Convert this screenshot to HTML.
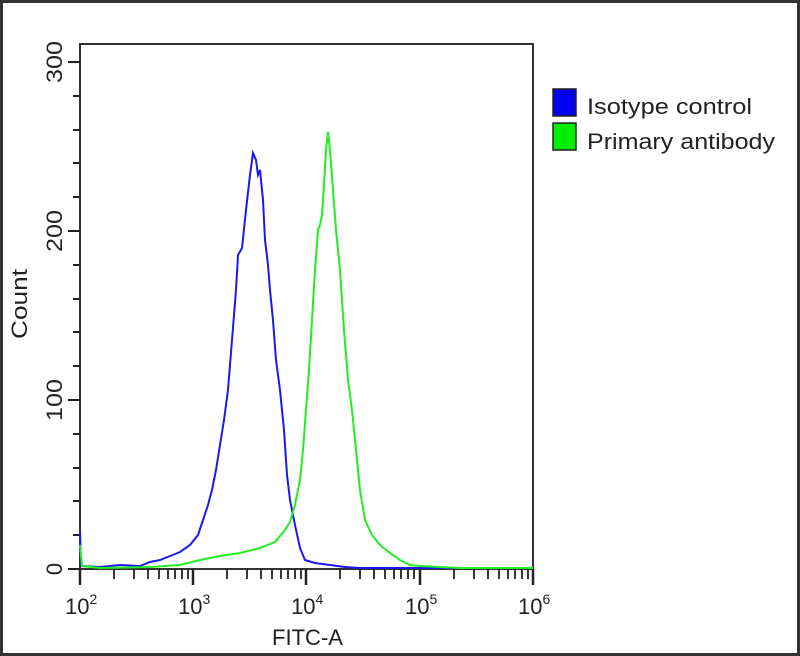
<!DOCTYPE html>
<html><head><meta charset="utf-8"><style>
html,body{margin:0;padding:0;background:#fff}
svg{display:block}
text{font-family:"Liberation Sans",sans-serif;fill:#222}
</style></head><body>
<svg width="800" height="656" viewBox="0 0 800 656" xmlns="http://www.w3.org/2000/svg">
<rect x="1.5" y="1.5" width="797" height="653" fill="#fff" stroke="#333" stroke-width="3"/>
<rect x="80" y="44" width="453" height="525" fill="#fff" stroke="#333" stroke-width="2"/>
<g stroke="#222" stroke-width="2">
<line x1="68" y1="569" x2="80" y2="569"/><line x1="68" y1="400" x2="80" y2="400"/><line x1="68" y1="231" x2="80" y2="231"/><line x1="68" y1="62" x2="80" y2="62"/>
<line x1="73" y1="535" x2="80" y2="535"/><line x1="73" y1="501" x2="80" y2="501"/><line x1="73" y1="468" x2="80" y2="468"/><line x1="73" y1="434" x2="80" y2="434"/>
<line x1="73" y1="366" x2="80" y2="366"/><line x1="73" y1="332" x2="80" y2="332"/><line x1="73" y1="299" x2="80" y2="299"/><line x1="73" y1="265" x2="80" y2="265"/>
<line x1="73" y1="197" x2="80" y2="197"/><line x1="73" y1="163" x2="80" y2="163"/><line x1="73" y1="130" x2="80" y2="130"/><line x1="73" y1="96" x2="80" y2="96"/>
</g>
<g stroke="#222" stroke-width="2.5">
<line x1="80" y1="569" x2="80" y2="585"/><line x1="193" y1="569" x2="193" y2="585"/><line x1="306" y1="569" x2="306" y2="585"/><line x1="420" y1="569" x2="420" y2="585"/><line x1="533" y1="569" x2="533" y2="585"/>
</g>
<g stroke="#222" stroke-width="1.8">
<path d="M114 569v10M134 569v10M148 569v10M159 569v10M168 569v10M175 569v10M182 569v10M188 569v10
M227 569v10M247 569v10M261 569v10M272 569v10M281 569v10M288 569v10M295 569v10M301 569v10
M340 569v10M360 569v10M374 569v10M385 569v10M394 569v10M401 569v10M408 569v10M414 569v10
M454 569v10M474 569v10M488 569v10M499 569v10M508 569v10M515 569v10M522 569v10M528 569v10"/>
</g>
<polyline fill="none" stroke="#1a1aee" stroke-width="2" points="80,530 81,566 100,567 120,565 140,566 150,562 160,560 170,556 180,552 190,545 198,535 203,520 208,505 212,490 216,470 220,445 224,420 228,390 232,340 236,290 238,255 242,248 246,210 250,175 253,153 256,160 258,175 260,170 263,200 265,240 268,265 270,290 273,320 276,360 280,390 284,430 287,475 290,500 295,525 300,548 305,560 315,563 330,565 345,567 360,568 533,568"/>
<polyline fill="none" stroke="#22ee22" stroke-width="2" points="80,545 82,566 100,568 150,567 180,565 200,560 220,556 240,553 260,548 275,542 285,530 290,522 295,505 300,480 303,450 306,410 309,370 312,320 315,270 318,230 320,225 322,215 324,185 326,150 328,132 330,150 333,190 336,230 340,270 344,330 348,380 352,410 356,450 360,490 365,520 372,535 380,545 390,553 400,560 410,565 420,566 440,567 460,568 533,568"/>
<g font-size="22">
<text transform="translate(62,569) rotate(-90)" text-anchor="middle">0</text>
<text transform="translate(62,400) rotate(-90)" text-anchor="middle" textLength="42" lengthAdjust="spacingAndGlyphs">100</text>
<text transform="translate(62,231) rotate(-90)" text-anchor="middle" textLength="42" lengthAdjust="spacingAndGlyphs">200</text>
<text transform="translate(62,62) rotate(-90)" text-anchor="middle" textLength="42" lengthAdjust="spacingAndGlyphs">300</text>
<text transform="translate(27,304) rotate(-90)" text-anchor="middle" textLength="70" lengthAdjust="spacingAndGlyphs">Count</text>
<text x="272" y="645" textLength="71" lengthAdjust="spacingAndGlyphs">FITC-A</text>
<text x="65" y="614">10<tspan font-size="14" dy="-10">2</tspan></text>
<text x="178" y="614">10<tspan font-size="14" dy="-10">3</tspan></text>
<text x="291" y="614">10<tspan font-size="14" dy="-10">4</tspan></text>
<text x="405" y="614">10<tspan font-size="14" dy="-10">5</tspan></text>
<text x="518" y="614">10<tspan font-size="14" dy="-10">6</tspan></text>
</g>
<rect x="553" y="89" width="23" height="27" fill="#0000ee" stroke="#222" stroke-width="1.5"/>
<rect x="553" y="123" width="23" height="27" fill="#00ee00" stroke="#222" stroke-width="1.5"/>
<text x="587" y="114" font-size="22" textLength="165" lengthAdjust="spacingAndGlyphs">Isotype control</text>
<text x="587" y="149" font-size="22" textLength="188" lengthAdjust="spacingAndGlyphs">Primary antibody</text>
</svg>
</body></html>
